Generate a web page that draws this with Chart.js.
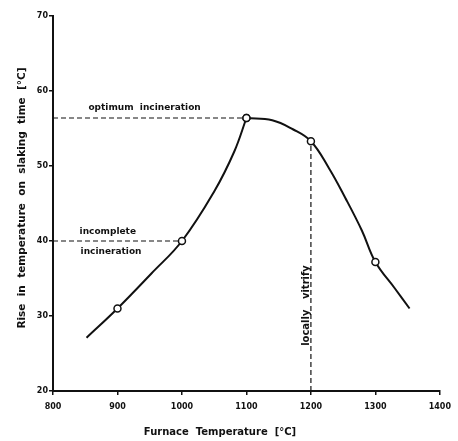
<!DOCTYPE html>
<html>
<head>
<meta charset="utf-8">
<script src="https://cdn.jsdelivr.net/npm/chart.js@4/dist/chart.umd.min.js"></script>
<style>
  html, body { margin: 0; padding: 0; background: #fff; }
  #wrap { width: 458px; height: 441px; }
</style>
</head>
<body>
<div id="wrap"><canvas id="furnaceChart" width="458" height="441"></canvas></div>
<script>
// values, along the hand drawn curve
const curveTemps = [852, 900, 953, 1000, 1050, 1081, 1100, 1140, 1172, 1200, 1228, 1253, 1279, 1300, 1330, 1353];
const curveRise = [27.1, 31, 35.7, 40, 46.6, 51.9, 56.4, 56.1, 54.9, 53.3, 49.7, 45.8, 41.4, 37.2, 33.7, 31];
// temperatures that carry an open circle
const measuredTemps = [900, 1000, 1100, 1200, 1300];

const xTicks = [800, 900, 1000, 1100, 1200, 1300, 1400];
const yTicks = [20, 30, 40, 50, 60, 70];

const optimumTemp = 1100, optimumRise = 56.4;
const incompleteTemp = 1000, incompleteRise = 40;
const vitrifyTemp = 1200, vitrifyRise = 53.3;

const ink = '#111';

// the curve has a corner at the optimum, so draw it as two branches
function branch(keep) {
    const pts = [];
    curveTemps.forEach((t, i) => { if (keep(t)) pts.push({ x: t, y: curveRise[i] }); });
    return {
        data: pts,
        borderColor: ink,
        borderWidth: 2,
        tension: 0.4,
        pointRadius: pts.map(p => measuredTemps.includes(p.x) ? 3.5 : 0),
        pointBackgroundColor: '#fff',
        pointBorderColor: ink,
        pointBorderWidth: 1.5,
        fill: false
    };
}

function dashed(points) {
    return {
        data: points,
        borderColor: ink,
        borderWidth: 1.2,
        borderDash: [5, 3],
        pointRadius: 0,
        fill: false,
        tension: 0
    };
}

// text labels drawn on the canvas, anchored to the scales
const textPlugin = {
    id: 'texts',
    afterDraw(chart) {
        const ctx = chart.ctx;
        const xs = chart.scales.x, ys = chart.scales.y;
        ctx.save();
        ctx.fillStyle = ink;
        ctx.textAlign = 'center';
        ctx.textBaseline = 'middle';
        ctx.font = 'bold 9px "DejaVu Sans"';
        ctx.fillText('optimum  incineration', xs.getPixelForValue(942), ys.getPixelForValue(57.8));
        ctx.fillText('incomplete', xs.getPixelForValue(885), ys.getPixelForValue(41.2));
        ctx.fillText('incineration', xs.getPixelForValue(890), ys.getPixelForValue(38.6));

        ctx.save();
        ctx.translate(xs.getPixelForValue(1193), ys.getPixelForValue(31.4));
        ctx.rotate(-Math.PI / 2);
        ctx.font = 'bold 10px "DejaVu Sans"';
        ctx.fillText('locally   vitrify', 0, 0);
        ctx.restore();

        ctx.font = 'bold 10px "DejaVu Sans"';
        ctx.fillText('Furnace  Temperature  [°C]', 220, 432);

        ctx.save();
        ctx.translate(22, 198);
        ctx.rotate(-Math.PI / 2);
        ctx.font = 'bold 10.5px "DejaVu Sans"';
        ctx.fillText('Rise  in  temperature  on  slaking  time  [°C]', 0, 0);
        ctx.restore();
        ctx.restore();
    }
};

new Chart(document.getElementById('furnaceChart').getContext('2d'), {
    type: 'line',
    data: {
        datasets: [
            branch(t => t <= optimumTemp),
            branch(t => t >= optimumTemp),
            dashed([{ x: xTicks[0], y: optimumRise }, { x: optimumTemp, y: optimumRise }]),
            dashed([{ x: xTicks[0], y: incompleteRise }, { x: incompleteTemp, y: incompleteRise }]),
            dashed([{ x: vitrifyTemp, y: yTicks[0] }, { x: vitrifyTemp, y: vitrifyRise }])
        ]
    },
    options: {
        responsive: false,
        animation: false,
        layout: { padding: { top: 16, right: 12, left: 0, bottom: 0 } },
        plugins: {
            legend: { display: false },
            tooltip: { enabled: false }
        },
        scales: {
            x: {
                type: 'linear',
                min: xTicks[0],
                max: xTicks[xTicks.length - 1],
                afterBuildTicks: s => { s.ticks = xTicks.map(v => ({ value: v })); },
                afterFit: s => { s.height = 50; },
                border: { color: ink, width: 2 },
                grid: { drawOnChartArea: false, drawTicks: true, tickLength: 4, color: ink, lineWidth: 1.5 },
                ticks: {
                    color: ink,
                    padding: 7,
                    maxRotation: 0,
                    callback: v => String(v),
                    font: { family: 'DejaVu Sans', weight: 'bold', size: 8 }
                }
            },
            y: {
                min: yTicks[0],
                max: yTicks[yTicks.length - 1],
                afterBuildTicks: s => { s.ticks = yTicks.map(v => ({ value: v })); },
                afterFit: s => { s.width = 53; },
                border: { color: ink, width: 2 },
                grid: { drawOnChartArea: false, drawTicks: true, tickLength: 4, color: ink, lineWidth: 1.5 },
                ticks: {
                    color: ink,
                    padding: 1,
                    callback: v => String(v),
                    font: { family: 'DejaVu Sans', weight: 'bold', size: 8 }
                }
            }
        }
    },
    plugins: [textPlugin]
});
</script>
</body>
</html>
